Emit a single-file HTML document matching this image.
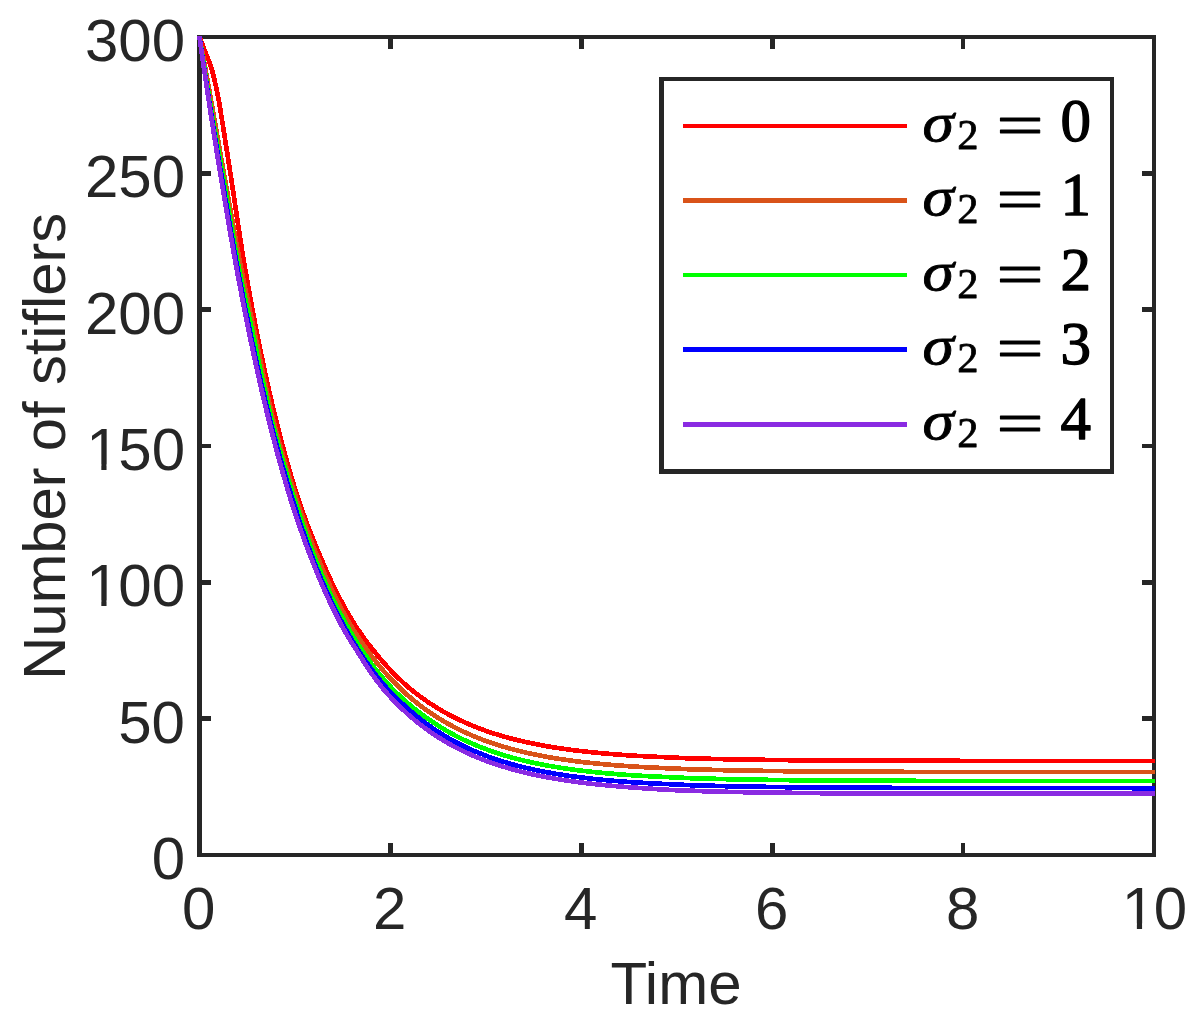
<!DOCTYPE html>
<html lang="en"><head><meta charset="utf-8"><title>Number of stiflers vs Time</title>
<style>html,body{margin:0;padding:0;background:#fff}body{width:1200px;height:1022px;overflow:hidden}svg{display:block}.t{font-family:"Liberation Sans",Arial,Helvetica,sans-serif;font-size:60px;fill:#262626}.m{font-family:"Liberation Serif","Times New Roman",serif;fill:#000}</style></head><body>
<svg width="1200" height="1022" viewBox="0 0 1200 1022">
<rect x="0" y="0" width="1200" height="1022" fill="#ffffff"/>
<g fill="#262626" shape-rendering="crispEdges">
<rect x="197" y="35" width="5" height="822"/>
<rect x="1152" y="35" width="4" height="822"/>
<rect x="197" y="35" width="959" height="4"/>
<rect x="197" y="853" width="959" height="4"/>
<rect x="388" y="843" width="5" height="10"/>
<rect x="388" y="39" width="5" height="10"/>
<rect x="579" y="843" width="5" height="10"/>
<rect x="579" y="39" width="5" height="10"/>
<rect x="770" y="843" width="5" height="10"/>
<rect x="770" y="39" width="5" height="10"/>
<rect x="961" y="843" width="4" height="10"/>
<rect x="961" y="39" width="4" height="10"/>
<rect x="202" y="716" width="9" height="5"/>
<rect x="1142" y="716" width="10" height="5"/>
<rect x="202" y="580" width="9" height="5"/>
<rect x="1142" y="580" width="10" height="5"/>
<rect x="202" y="444" width="9" height="4"/>
<rect x="1142" y="444" width="10" height="4"/>
<rect x="202" y="307" width="9" height="5"/>
<rect x="1142" y="307" width="10" height="5"/>
<rect x="202" y="171" width="9" height="5"/>
<rect x="1142" y="171" width="10" height="5"/>
</g>
<clipPath id="pc"><rect x="197" y="36" width="959" height="821"/></clipPath>
<g fill="none" stroke-width="4.7" stroke-linejoin="round" stroke-linecap="butt" shape-rendering="crispEdges" clip-path="url(#pc)">
<path stroke="#ff0000" d="M198.32,34.00 L199.50,37.00 L200.54,39.66 L201.58,42.33 L202.63,45.00 L203.67,47.69 L204.71,50.38 L205.76,53.07 L206.80,55.64 L207.84,58.17 L208.88,60.78 L209.92,63.57 L210.97,66.67 L212.03,70.20 L213.09,74.16 L214.16,78.49 L215.23,83.10 L216.31,87.96 L217.39,93.20 L218.48,98.77 L219.50,104.61 L220.50,110.64 L221.50,116.81 L222.50,123.02 L223.50,129.23 L224.50,135.64 L225.50,142.04 L226.50,148.44 L227.50,154.82 L228.50,161.19 L229.50,167.54 L230.50,173.88 L231.50,180.19 L232.42,186.48 L233.34,192.74 L234.27,198.97 L235.19,205.18 L236.12,211.35 L237.04,217.48 L237.97,223.58 L238.89,229.64 L239.82,235.67 L240.75,241.65 L241.68,247.58 L242.60,253.48 L243.53,259.33 L244.50,265.13 L245.50,270.88 L246.50,276.58 L247.50,282.23 L248.50,287.83 L249.50,293.38 L250.50,298.87 L251.50,304.31 L252.50,309.69 L253.50,315.02 L254.50,320.29 L255.50,325.50 L256.50,330.65 L257.50,335.75 L258.50,340.79 L259.50,345.76 L260.50,350.68 L261.50,355.54 L262.50,360.34 L263.50,365.08 L264.50,369.77 L265.50,374.41 L266.50,378.98 L267.50,383.51 L268.50,387.98 L269.50,392.39 L270.50,396.75 L271.50,401.07 L272.50,405.32 L273.50,409.53 L274.50,413.69 L275.50,417.80 L276.50,421.86 L277.50,425.87 L278.50,429.83 L279.50,433.74 L280.50,437.61 L281.50,441.43 L282.50,445.20 L283.50,448.93 L284.50,452.62 L285.50,456.26 L286.50,459.85 L287.50,463.40 L288.50,466.91 L289.50,470.38 L290.50,473.80 L291.50,477.18 L292.50,480.52 L293.50,483.82 L294.50,487.08 L295.50,490.30 L296.50,493.49 L297.50,496.63 L298.50,499.73 L299.53,502.80 L300.58,505.83 L301.63,508.82 L302.68,511.77 L303.73,514.69 L304.78,517.58 L305.82,520.43 L306.87,523.24 L307.92,526.02 L308.96,528.76 L310.01,531.47 L311.05,534.15 L312.10,536.80 L313.14,539.41 L314.18,541.99 L315.23,544.54 L316.27,547.05 L317.31,549.54 L318.35,551.99 L319.39,554.42 L320.43,556.82 L321.47,559.18 L322.49,561.52 L323.47,563.83 L324.44,566.11 L325.42,568.36 L326.40,570.59 L327.37,572.79 L328.35,574.96 L329.33,577.10 L330.30,579.22 L331.28,581.32 L332.26,583.39 L333.24,585.43 L334.22,587.45 L335.19,589.44 L336.17,591.42 L337.15,593.36 L338.13,595.29 L339.11,597.19 L340.09,599.07 L341.07,600.92 L342.05,602.75 L343.03,604.57 L344.01,606.36 L344.99,608.13 L345.97,609.87 L346.96,611.60 L347.94,613.31 L348.92,614.99 L349.90,616.66 L350.88,618.31 L351.87,619.93 L352.85,621.54 L353.83,623.13 L354.81,624.70 L355.80,626.25 L356.82,627.79 L357.85,629.30 L358.87,630.80 L359.89,632.28 L360.91,633.75 L361.93,635.19 L362.95,636.62 L363.97,638.04 L364.99,639.43 L366.00,640.81 L367.02,642.18 L368.04,643.52 L369.06,644.86 L370.08,646.17 L371.10,647.48 L372.11,648.76 L373.13,650.04 L374.15,651.29 L375.17,652.54 L376.18,653.76 L377.20,654.98 L378.18,656.18 L379.15,657.37 L380.13,658.54 L381.11,659.70 L382.08,660.85 L383.06,661.98 L384.04,663.10 L385.02,664.21 L385.99,665.30 L386.97,666.39 L387.95,667.46 L388.93,668.51 L389.91,669.56 L390.89,670.59 L391.87,671.62 L392.85,672.63 L393.83,673.63 L394.81,674.62 L395.79,675.59 L396.77,676.56 L397.75,677.51 L398.73,678.46 L399.71,679.39 L400.69,680.31 L401.68,681.23 L402.66,682.13 L403.64,683.02 L404.62,683.90 L405.60,684.78 L406.59,685.64 L407.57,686.49 L408.55,687.34 L409.54,688.17 L410.52,688.99 L411.50,689.81 L412.50,690.62 L413.50,691.41 L414.50,692.20 L415.50,692.98 L416.50,693.75 L417.50,694.52 L418.50,695.27 L419.50,696.02 L420.50,696.75 L421.50,697.48 L422.50,698.20 L423.50,698.92 L424.50,699.62 L425.50,700.32 L426.50,701.01 L427.50,701.69 L428.50,702.37 L429.50,703.03 L430.50,703.69 L431.50,704.35 L432.50,704.99 L433.50,705.63 L434.50,706.26 L435.50,706.88 L436.50,707.50 L437.50,708.11 L438.50,708.72 L439.50,709.31 L440.50,709.91 L441.50,710.49 L442.50,711.07 L443.50,711.64 L444.50,712.20 L445.50,712.76 L446.50,713.32 L447.50,713.86 L448.50,714.40 L449.50,714.94 L450.50,715.47 L451.50,715.99 L452.50,716.51 L453.50,717.02 L454.50,717.52 L455.50,718.02 L456.50,718.52 L457.50,719.01 L458.50,719.49 L459.50,719.97 L460.50,720.44 L461.50,720.91 L462.50,721.37 L463.50,721.83 L464.50,722.28 L465.50,722.73 L466.50,723.17 L467.50,723.61 L468.50,724.04 L469.50,724.47 L470.50,724.89 L471.50,725.31 L472.50,725.72 L473.50,726.13 L474.50,726.53 L475.50,726.93 L476.50,727.32 L477.50,727.71 L478.50,728.10 L479.50,728.48 L480.00,728.67 L484.00,730.14 L488.00,731.55 L492.00,732.89 L496.00,734.18 L500.00,735.40 L504.00,736.57 L508.00,737.69 L512.00,738.75 L516.00,739.77 L520.00,740.74 L524.00,741.67 L528.00,742.55 L532.00,743.40 L536.00,744.20 L540.00,744.97 L544.00,745.71 L548.00,746.40 L552.00,747.07 L556.00,747.71 L560.00,748.32 L564.00,748.90 L568.00,749.45 L572.00,749.98 L576.00,750.48 L580.00,750.96 L584.00,751.42 L588.00,751.86 L592.00,752.27 L596.00,752.67 L600.00,753.05 L604.00,753.41 L608.00,753.76 L612.00,754.09 L616.00,754.40 L620.00,754.70 L624.00,754.99 L628.00,755.26 L632.00,755.52 L636.00,755.77 L640.00,756.01 L644.00,756.22 L648.00,756.42 L652.00,756.61 L656.00,756.80 L660.00,756.98 L664.00,757.16 L668.00,757.34 L672.00,757.52 L676.00,757.71 L680.00,757.90 L684.00,758.11 L688.00,758.26 L692.00,758.38 L696.00,758.48 L700.00,758.58 L704.00,758.68 L708.00,758.77 L712.00,758.88 L716.00,758.99 L720.00,759.10 L724.00,759.19 L728.00,759.27 L732.00,759.35 L736.00,759.42 L740.00,759.48 L744.00,759.54 L748.00,759.60 L752.00,759.66 L756.00,759.72 L760.00,759.78 L764.00,759.84 L768.00,759.90 L772.00,759.96 L776.00,760.02 L780.00,760.08 L784.00,760.12 L788.00,760.16 L792.00,760.19 L796.00,760.21 L800.00,760.24 L804.00,760.27 L808.00,760.29 L812.00,760.32 L816.00,760.34 L820.00,760.37 L824.00,760.39 L828.00,760.41 L832.00,760.43 L836.00,760.46 L840.00,760.48 L844.00,760.50 L848.00,760.52 L852.00,760.54 L856.00,760.55 L860.00,760.57 L864.00,760.59 L868.00,760.61 L872.00,760.62 L876.00,760.64 L880.00,760.65 L884.00,760.67 L888.00,760.68 L892.00,760.70 L896.00,760.71 L900.00,760.72 L904.00,760.73 L908.00,760.74 L912.00,760.76 L916.00,760.77 L920.00,760.78 L924.00,760.79 L928.00,760.79 L932.00,760.80 L936.00,760.81 L940.00,760.82 L944.00,760.83 L948.00,760.83 L952.00,760.84 L956.00,760.84 L960.00,760.85 L964.00,760.86 L968.00,760.86 L972.00,760.87 L976.00,760.87 L980.00,760.88 L984.00,760.88 L988.00,760.89 L992.00,760.89 L996.00,760.89 L1000.00,760.90 L1004.00,760.90 L1008.00,760.91 L1012.00,760.91 L1016.00,760.92 L1020.00,760.92 L1024.00,760.93 L1028.00,760.93 L1032.00,760.93 L1036.00,760.94 L1040.00,760.94 L1044.00,760.95 L1048.00,760.95 L1052.00,760.95 L1056.00,760.96 L1060.00,760.96 L1064.00,760.96 L1068.00,760.97 L1072.00,760.97 L1076.00,760.97 L1080.00,760.97 L1084.00,760.98 L1088.00,760.98 L1092.00,760.98 L1096.00,760.98 L1100.00,760.99 L1104.00,760.99 L1108.00,760.99 L1112.00,760.99 L1116.00,760.99 L1120.00,760.99 L1124.00,761.00 L1128.00,761.00 L1132.00,761.00 L1136.00,761.00 L1140.00,761.00 L1144.00,761.00 L1148.00,761.00 L1152.00,761.00 L1155.00,761.00"/>
<path stroke="#d95319" d="M198.94,33.83 L199.50,36.83 L200.50,42.16 L201.50,47.53 L202.50,52.94 L203.50,58.38 L204.50,63.85 L205.50,69.36 L206.50,74.89 L207.50,80.45 L208.50,86.03 L209.50,91.63 L210.50,97.25 L211.50,102.88 L212.50,108.53 L213.50,114.19 L214.50,119.87 L215.50,125.55 L216.50,131.23 L217.50,136.92 L218.50,142.62 L219.50,148.31 L220.50,154.00 L221.50,159.69 L222.50,165.38 L223.50,171.05 L224.50,176.72 L225.50,182.38 L226.50,188.03 L227.50,193.67 L228.50,199.29 L229.50,204.89 L230.50,210.48 L231.50,216.05 L232.50,221.60 L233.50,227.13 L234.50,232.63 L235.50,238.12 L236.50,243.57 L237.50,249.01 L238.50,254.41 L239.50,259.79 L240.54,265.13 L241.61,270.45 L242.67,275.74 L243.74,280.99 L244.80,286.21 L245.87,291.40 L246.93,296.56 L248.00,301.68 L249.06,306.76 L250.12,311.81 L251.19,316.82 L252.25,321.79 L253.31,326.72 L254.37,331.62 L255.43,336.47 L256.49,341.29 L257.45,346.06 L258.39,350.79 L259.33,355.49 L260.27,360.14 L261.22,364.75 L262.16,369.31 L263.10,373.84 L264.05,378.32 L264.99,382.76 L265.94,387.15 L266.88,391.51 L267.83,395.81 L268.77,400.08 L269.72,404.30 L270.67,408.47 L271.62,412.60 L272.57,416.69 L273.52,420.73 L274.53,424.73 L275.58,428.69 L276.63,432.60 L277.68,436.46 L278.73,440.28 L279.78,444.06 L280.83,447.79 L281.87,451.48 L282.92,455.13 L283.96,458.73 L285.01,462.29 L286.05,465.81 L287.10,469.29 L288.14,472.73 L289.19,476.12 L290.23,479.48 L291.27,482.80 L292.31,486.08 L293.35,489.32 L294.39,492.52 L295.43,495.69 L296.47,498.82 L297.50,501.91 L298.50,504.97 L299.50,507.99 L300.50,510.98 L301.50,513.93 L302.50,516.85 L303.50,519.73 L304.50,522.59 L305.50,525.40 L306.50,528.19 L307.50,530.94 L308.50,533.67 L309.50,536.36 L310.50,539.02 L311.50,541.64 L312.50,544.24 L313.50,546.81 L314.50,549.35 L315.50,551.86 L316.50,554.34 L317.50,556.80 L318.50,559.22 L319.49,561.62 L320.47,563.99 L321.44,566.33 L322.42,568.65 L323.39,570.93 L324.37,573.20 L325.34,575.44 L326.32,577.65 L327.30,579.83 L328.27,582.00 L329.25,584.13 L330.23,586.25 L331.21,588.33 L332.18,590.40 L333.16,592.44 L334.14,594.46 L335.12,596.45 L336.10,598.43 L337.08,600.38 L338.06,602.31 L339.03,604.21 L340.01,606.10 L340.99,607.96 L341.97,609.80 L342.95,611.63 L343.94,613.43 L344.92,615.21 L345.90,616.97 L346.88,618.71 L347.86,620.43 L348.84,622.13 L349.82,623.82 L350.81,625.48 L351.81,627.13 L352.82,628.75 L353.83,630.36 L354.84,631.95 L355.85,633.52 L356.86,635.08 L357.87,636.62 L358.88,638.14 L359.89,639.64 L360.90,641.12 L361.91,642.59 L362.92,644.05 L363.93,645.48 L364.94,646.90 L365.95,648.31 L366.96,649.70 L367.97,651.07 L368.98,652.43 L369.99,653.77 L371.00,655.10 L371.98,656.42 L372.96,657.71 L373.94,659.00 L374.92,660.27 L375.91,661.53 L376.89,662.77 L377.87,664.00 L378.85,665.21 L379.84,666.41 L380.82,667.60 L381.80,668.77 L382.79,669.93 L383.77,671.08 L384.75,672.22 L385.74,673.34 L386.72,674.45 L387.71,675.55 L388.69,676.64 L389.68,677.71 L390.66,678.77 L391.65,679.82 L392.63,680.86 L393.62,681.89 L394.60,682.91 L395.59,683.91 L396.57,684.90 L397.56,685.89 L398.54,686.86 L399.53,687.82 L400.52,688.77 L401.50,689.71 L402.50,690.64 L403.50,691.56 L404.50,692.47 L405.50,693.37 L406.50,694.26 L407.50,695.14 L408.50,696.01 L409.50,696.87 L410.50,697.72 L411.50,698.56 L412.50,699.39 L413.50,700.21 L414.50,701.03 L415.50,701.83 L416.50,702.63 L417.50,703.42 L418.50,704.19 L419.50,704.96 L420.50,705.73 L421.50,706.48 L422.50,707.22 L423.50,707.96 L424.50,708.69 L425.50,709.41 L426.50,710.12 L427.50,710.83 L428.50,711.53 L429.50,712.21 L430.50,712.90 L431.50,713.57 L432.50,714.24 L433.50,714.90 L434.50,715.55 L435.50,716.20 L436.50,716.83 L437.50,717.47 L438.50,718.09 L439.50,718.71 L440.50,719.32 L441.50,719.92 L442.50,720.52 L443.50,721.11 L444.50,721.70 L445.50,722.27 L446.50,722.85 L447.50,723.41 L448.50,723.97 L449.50,724.52 L450.50,725.07 L451.50,725.61 L452.50,726.15 L453.50,726.67 L454.50,727.20 L455.50,727.71 L456.50,728.23 L457.50,728.73 L458.50,729.23 L459.50,729.73 L460.50,730.21 L461.50,730.70 L462.50,731.18 L463.50,731.65 L464.50,732.12 L465.50,732.58 L466.50,733.03 L467.50,733.49 L468.50,733.93 L469.50,734.37 L470.50,734.81 L471.50,735.24 L472.50,735.67 L473.50,736.09 L474.50,736.51 L475.50,736.92 L476.50,737.33 L477.50,737.73 L478.50,738.13 L479.50,738.52 L480.00,738.72 L484.00,740.24 L488.00,741.70 L492.00,743.08 L496.00,744.41 L500.00,745.68 L504.00,746.89 L508.00,748.04 L512.00,749.14 L516.00,750.19 L520.00,751.19 L524.00,752.15 L528.00,753.07 L532.00,753.94 L536.00,754.77 L540.00,755.56 L544.00,756.32 L548.00,757.04 L552.00,757.73 L556.00,758.38 L560.00,759.01 L564.00,759.61 L568.00,760.18 L572.00,760.72 L576.00,761.24 L580.00,761.74 L584.00,762.21 L588.00,762.66 L592.00,763.09 L596.00,763.50 L600.00,763.89 L604.00,764.26 L608.00,764.61 L612.00,764.95 L616.00,765.28 L620.00,765.59 L624.00,765.88 L628.00,766.16 L632.00,766.43 L636.00,766.68 L640.00,766.93 L644.00,767.14 L648.00,767.35 L652.00,767.54 L656.00,767.73 L660.00,767.91 L664.00,768.09 L668.00,768.27 L672.00,768.45 L676.00,768.63 L680.00,768.81 L684.00,769.01 L688.00,769.19 L692.00,769.32 L696.00,769.44 L700.00,769.54 L704.00,769.64 L708.00,769.75 L712.00,769.86 L716.00,769.98 L720.00,770.10 L724.00,770.19 L728.00,770.28 L732.00,770.35 L736.00,770.43 L740.00,770.49 L744.00,770.56 L748.00,770.62 L752.00,770.68 L756.00,770.74 L760.00,770.80 L764.00,770.87 L768.00,770.94 L772.00,771.01 L776.00,771.07 L780.00,771.13 L784.00,771.17 L788.00,771.21 L792.00,771.24 L796.00,771.28 L800.00,771.31 L804.00,771.35 L808.00,771.38 L812.00,771.41 L816.00,771.44 L820.00,771.47 L824.00,771.50 L828.00,771.53 L832.00,771.56 L836.00,771.58 L840.00,771.61 L844.00,771.63 L848.00,771.65 L852.00,771.67 L856.00,771.70 L860.00,771.71 L864.00,771.73 L868.00,771.75 L872.00,771.77 L876.00,771.78 L880.00,771.79 L884.00,771.81 L888.00,771.82 L892.00,771.83 L896.00,771.84 L900.00,771.84 L904.00,771.85 L908.00,771.85 L912.00,771.86 L916.00,771.86 L920.00,771.87 L924.00,771.87 L928.00,771.88 L932.00,771.88 L936.00,771.88 L940.00,771.89 L944.00,771.89 L948.00,771.90 L952.00,771.90 L956.00,771.90 L960.00,771.91 L964.00,771.91 L968.00,771.92 L972.00,771.92 L976.00,771.92 L980.00,771.93 L984.00,771.93 L988.00,771.93 L992.00,771.94 L996.00,771.94 L1000.00,771.94 L1004.00,771.95 L1008.00,771.95 L1012.00,771.95 L1016.00,771.95 L1020.00,771.96 L1024.00,771.96 L1028.00,771.96 L1032.00,771.96 L1036.00,771.97 L1040.00,771.97 L1044.00,771.97 L1048.00,771.97 L1052.00,771.97 L1056.00,771.98 L1060.00,771.98 L1064.00,771.98 L1068.00,771.98 L1072.00,771.98 L1076.00,771.98 L1080.00,771.99 L1084.00,771.99 L1088.00,771.99 L1092.00,771.99 L1096.00,771.99 L1100.00,771.99 L1104.00,771.99 L1108.00,771.99 L1112.00,772.00 L1116.00,772.00 L1120.00,772.00 L1124.00,772.00 L1128.00,772.00 L1132.00,772.00 L1136.00,772.00 L1140.00,772.00 L1144.00,772.00 L1148.00,772.00 L1152.00,772.00 L1155.00,772.00"/>
<path stroke="#00ff00" d="M199.03,33.96 L199.50,36.96 L200.50,43.34 L201.50,49.70 L202.50,56.04 L203.50,62.36 L204.50,68.66 L205.50,74.93 L206.50,81.19 L207.50,87.42 L208.50,93.63 L209.50,99.81 L210.56,105.97 L211.62,112.11 L212.68,118.22 L213.74,124.30 L214.80,130.35 L215.86,136.38 L216.92,142.38 L217.98,148.35 L219.04,154.29 L220.10,160.20 L221.16,166.09 L222.22,171.94 L223.28,177.76 L224.27,183.54 L225.21,189.30 L226.15,195.03 L227.10,200.72 L228.04,206.38 L228.99,212.00 L229.93,217.59 L230.88,223.15 L231.83,228.67 L232.77,234.16 L233.72,239.62 L234.67,245.04 L235.61,250.42 L236.56,255.77 L237.51,261.08 L238.55,266.36 L239.62,271.60 L240.68,276.80 L241.75,281.97 L242.81,287.10 L243.88,292.19 L244.94,297.24 L246.00,302.26 L247.07,307.24 L248.13,312.19 L249.19,317.10 L250.25,321.96 L251.31,326.80 L252.37,331.59 L253.43,336.34 L254.49,341.06 L255.45,345.74 L256.40,350.38 L257.34,354.99 L258.28,359.55 L259.22,364.08 L260.17,368.57 L261.11,373.02 L262.06,377.44 L263.00,381.81 L263.95,386.15 L264.89,390.45 L265.84,394.71 L266.79,398.94 L267.74,403.12 L268.68,407.27 L269.63,411.39 L270.58,415.46 L271.53,419.50 L272.52,423.50 L273.57,427.46 L274.62,431.39 L275.67,435.28 L276.72,439.13 L277.77,442.94 L278.81,446.72 L279.86,450.46 L280.91,454.17 L281.95,457.84 L283.00,461.48 L284.05,465.07 L285.09,468.64 L286.14,472.17 L287.18,475.66 L288.22,479.11 L289.27,482.54 L290.31,485.92 L291.35,489.28 L292.39,492.60 L293.44,495.88 L294.48,499.13 L295.51,502.35 L296.52,505.53 L297.53,508.68 L298.54,511.80 L299.56,514.88 L300.57,517.93 L301.58,520.95 L302.60,523.93 L303.61,526.89 L304.62,529.81 L305.63,532.70 L306.64,535.56 L307.66,538.38 L308.67,541.18 L309.68,543.95 L310.69,546.68 L311.70,549.39 L312.71,552.06 L313.72,554.70 L314.73,557.32 L315.75,559.90 L316.77,562.46 L317.80,564.99 L318.82,567.48 L319.85,569.95 L320.88,572.39 L321.91,574.80 L322.94,577.19 L323.96,579.54 L324.99,581.87 L326.02,584.17 L327.04,586.44 L328.07,588.69 L329.10,590.91 L330.12,593.10 L331.15,595.27 L332.17,597.41 L333.19,599.52 L334.22,601.61 L335.24,603.67 L336.27,605.71 L337.29,607.72 L338.31,609.70 L339.33,611.67 L340.36,613.60 L341.38,615.52 L342.40,617.41 L343.42,619.27 L344.44,621.12 L345.46,622.94 L346.49,624.73 L347.49,626.50 L348.48,628.25 L349.46,629.98 L350.44,631.69 L351.42,633.37 L352.41,635.03 L353.39,636.68 L354.37,638.29 L355.36,639.89 L356.34,641.47 L357.32,643.03 L358.31,644.56 L359.29,646.08 L360.28,647.57 L361.26,649.05 L362.25,650.51 L363.23,651.95 L364.22,653.37 L365.20,654.77 L366.14,656.15 L367.08,657.52 L368.01,658.87 L368.95,660.20 L369.88,661.52 L370.82,662.82 L371.76,664.11 L372.70,665.38 L373.63,666.63 L374.57,667.87 L375.52,669.10 L376.46,670.31 L377.40,671.51 L378.34,672.69 L379.28,673.86 L380.23,675.02 L381.17,676.16 L382.12,677.29 L383.06,678.41 L384.01,679.52 L384.96,680.61 L385.90,681.70 L386.85,682.77 L387.80,683.83 L388.75,684.88 L389.70,685.92 L390.65,686.94 L391.60,687.96 L392.55,688.97 L393.50,689.96 L394.50,690.95 L395.50,691.92 L396.50,692.89 L397.50,693.85 L398.50,694.79 L399.50,695.73 L400.50,696.66 L401.50,697.58 L402.50,698.49 L403.50,699.39 L404.50,700.29 L405.50,701.17 L406.50,702.05 L407.50,702.91 L408.50,703.77 L409.50,704.62 L410.50,705.46 L411.50,706.30 L412.50,707.12 L413.50,707.94 L414.50,708.75 L415.50,709.55 L416.50,710.34 L417.50,711.13 L418.50,711.90 L419.50,712.67 L420.50,713.43 L421.50,714.19 L422.50,714.93 L423.50,715.67 L424.50,716.40 L425.50,717.12 L426.50,717.84 L427.50,718.55 L428.50,719.25 L429.50,719.94 L430.50,720.63 L431.50,721.31 L432.50,721.98 L433.50,722.65 L434.50,723.31 L435.50,723.96 L436.50,724.60 L437.50,725.24 L438.50,725.87 L439.50,726.50 L440.50,727.12 L441.50,727.73 L442.50,728.33 L443.50,728.93 L444.50,729.52 L445.50,730.11 L446.50,730.69 L447.50,731.26 L448.50,731.83 L449.50,732.39 L450.50,732.95 L451.50,733.50 L452.50,734.04 L453.50,734.58 L454.50,735.11 L455.50,735.64 L456.50,736.16 L457.50,736.67 L458.50,737.18 L459.50,737.68 L460.50,738.18 L461.50,738.67 L462.50,739.16 L463.50,739.64 L464.50,740.12 L465.50,740.59 L466.50,741.06 L467.50,741.52 L468.50,741.97 L469.50,742.43 L470.50,742.87 L471.50,743.31 L472.50,743.75 L473.50,744.18 L474.50,744.61 L475.50,745.03 L476.50,745.45 L477.50,745.86 L478.50,746.27 L479.50,746.67 L480.00,746.87 L484.00,748.43 L488.00,749.92 L492.00,751.34 L496.00,752.70 L500.00,754.00 L504.00,755.24 L508.00,756.42 L512.00,757.56 L516.00,758.63 L520.00,759.66 L524.00,760.65 L528.00,761.58 L532.00,762.48 L536.00,763.33 L540.00,764.15 L544.00,764.92 L548.00,765.66 L552.00,766.37 L556.00,767.04 L560.00,767.68 L564.00,768.29 L568.00,768.88 L572.00,769.43 L576.00,769.96 L580.00,770.47 L584.00,770.95 L588.00,771.41 L592.00,771.85 L596.00,772.26 L600.00,772.66 L604.00,773.04 L608.00,773.40 L612.00,773.74 L616.00,774.07 L620.00,774.39 L624.00,774.68 L628.00,774.97 L632.00,775.24 L636.00,775.50 L640.00,775.75 L644.00,775.97 L648.00,776.17 L652.00,776.37 L656.00,776.57 L660.00,776.76 L664.00,776.94 L668.00,777.12 L672.00,777.30 L676.00,777.49 L680.00,777.67 L684.00,777.86 L688.00,778.06 L692.00,778.22 L696.00,778.35 L700.00,778.45 L704.00,778.55 L708.00,778.65 L712.00,778.75 L716.00,778.86 L720.00,778.98 L724.00,779.11 L728.00,779.20 L732.00,779.28 L736.00,779.36 L740.00,779.43 L744.00,779.49 L748.00,779.55 L752.00,779.61 L756.00,779.67 L760.00,779.73 L764.00,779.79 L768.00,779.85 L772.00,779.92 L776.00,779.98 L780.00,780.05 L784.00,780.11 L788.00,780.15 L792.00,780.19 L796.00,780.22 L800.00,780.25 L804.00,780.29 L808.00,780.32 L812.00,780.35 L816.00,780.38 L820.00,780.41 L824.00,780.44 L828.00,780.47 L832.00,780.50 L836.00,780.52 L840.00,780.55 L844.00,780.57 L848.00,780.60 L852.00,780.62 L856.00,780.64 L860.00,780.66 L864.00,780.68 L868.00,780.70 L872.00,780.72 L876.00,780.74 L880.00,780.75 L884.00,780.77 L888.00,780.78 L892.00,780.79 L896.00,780.81 L900.00,780.82 L904.00,780.83 L908.00,780.83 L912.00,780.84 L916.00,780.85 L920.00,780.85 L924.00,780.86 L928.00,780.86 L932.00,780.87 L936.00,780.87 L940.00,780.88 L944.00,780.88 L948.00,780.88 L952.00,780.89 L956.00,780.89 L960.00,780.90 L964.00,780.90 L968.00,780.91 L972.00,780.91 L976.00,780.91 L980.00,780.92 L984.00,780.92 L988.00,780.92 L992.00,780.93 L996.00,780.93 L1000.00,780.93 L1004.00,780.94 L1008.00,780.94 L1012.00,780.94 L1016.00,780.95 L1020.00,780.95 L1024.00,780.95 L1028.00,780.96 L1032.00,780.96 L1036.00,780.96 L1040.00,780.96 L1044.00,780.97 L1048.00,780.97 L1052.00,780.97 L1056.00,780.97 L1060.00,780.98 L1064.00,780.98 L1068.00,780.98 L1072.00,780.98 L1076.00,780.98 L1080.00,780.98 L1084.00,780.99 L1088.00,780.99 L1092.00,780.99 L1096.00,780.99 L1100.00,780.99 L1104.00,780.99 L1108.00,780.99 L1112.00,780.99 L1116.00,781.00 L1120.00,781.00 L1124.00,781.00 L1128.00,781.00 L1132.00,781.00 L1136.00,781.00 L1140.00,781.00 L1144.00,781.00 L1148.00,781.00 L1152.00,781.00 L1155.00,781.00"/>
<path stroke="#0000ff" d="M199.06,33.93 L199.50,36.93 L200.50,43.74 L201.50,50.51 L202.50,57.24 L203.50,63.94 L204.50,70.60 L205.50,77.22 L206.50,83.80 L207.50,90.35 L208.50,96.86 L209.52,103.33 L210.55,109.76 L211.58,116.15 L212.61,122.50 L213.64,128.81 L214.68,135.09 L215.71,141.32 L216.74,147.52 L217.77,153.67 L218.80,159.79 L219.83,165.86 L220.86,171.90 L221.89,177.89 L222.88,183.85 L223.85,189.76 L224.82,195.63 L225.80,201.46 L226.77,207.25 L227.74,213.00 L228.71,218.71 L229.68,224.38 L230.66,230.01 L231.63,235.60 L232.60,241.14 L233.57,246.65 L234.55,252.11 L235.52,257.53 L236.50,262.92 L237.50,268.26 L238.50,273.56 L239.50,278.82 L240.50,284.03 L241.50,289.21 L242.50,294.35 L243.50,299.44 L244.50,304.50 L245.50,309.51 L246.50,314.49 L247.50,319.42 L248.50,324.32 L249.50,329.17 L250.50,333.98 L251.50,338.75 L252.50,343.49 L253.50,348.18 L254.50,352.83 L255.50,357.44 L256.50,362.02 L257.50,366.55 L258.50,371.05 L259.50,375.50 L260.50,379.92 L261.50,384.30 L262.50,388.64 L263.50,392.94 L264.50,397.20 L265.50,401.43 L266.50,405.61 L267.50,409.76 L268.50,413.87 L269.50,417.94 L270.50,421.98 L271.54,425.98 L272.58,429.94 L273.61,433.86 L274.65,437.75 L275.69,441.60 L276.72,445.41 L277.76,449.19 L278.79,452.93 L279.83,456.64 L280.86,460.31 L281.90,463.95 L282.93,467.55 L283.97,471.11 L285.00,474.65 L286.03,478.14 L287.07,481.60 L288.10,485.03 L289.13,488.43 L290.16,491.79 L291.19,495.11 L292.23,498.41 L293.25,501.67 L294.27,504.90 L295.28,508.09 L296.29,511.25 L297.31,514.39 L298.32,517.48 L299.33,520.55 L300.34,523.59 L301.36,526.59 L302.37,529.57 L303.38,532.51 L304.39,535.42 L305.41,538.30 L306.42,541.15 L307.43,543.98 L308.44,546.77 L309.45,549.53 L310.46,552.26 L311.47,554.97 L312.49,557.64 L313.50,560.29 L314.52,562.90 L315.56,565.49 L316.59,568.05 L317.62,570.58 L318.65,573.08 L319.68,575.55 L320.71,578.00 L321.74,580.41 L322.77,582.80 L323.80,585.16 L324.83,587.49 L325.85,589.80 L326.88,592.07 L327.91,594.32 L328.94,596.54 L329.96,598.74 L330.99,600.91 L332.02,603.05 L333.04,605.17 L334.07,607.26 L335.09,609.32 L336.12,611.36 L337.14,613.37 L338.17,615.35 L339.19,617.31 L340.22,619.25 L341.24,621.16 L342.26,623.05 L343.29,624.91 L344.30,626.75 L345.30,628.56 L346.30,630.35 L347.30,632.11 L348.30,633.86 L349.30,635.57 L350.30,637.27 L351.30,638.94 L352.30,640.59 L353.30,642.22 L354.30,643.83 L355.30,645.41 L356.30,646.97 L357.30,648.51 L358.30,650.03 L359.30,651.53 L360.30,653.01 L361.30,654.47 L362.25,655.91 L363.18,657.33 L364.11,658.73 L365.04,660.12 L365.97,661.48 L366.90,662.84 L367.83,664.17 L368.76,665.49 L369.69,666.79 L370.63,668.08 L371.56,669.35 L372.50,670.61 L373.43,671.85 L374.37,673.08 L375.31,674.30 L376.25,675.50 L377.18,676.69 L378.12,677.86 L379.06,679.03 L380.01,680.18 L380.95,681.32 L381.89,682.45 L382.83,683.56 L383.77,684.67 L384.72,685.76 L385.66,686.85 L386.61,687.92 L387.55,688.98 L388.50,690.04 L389.50,691.08 L390.50,692.12 L391.50,693.14 L392.50,694.15 L393.50,695.16 L394.50,696.16 L395.50,697.15 L396.50,698.13 L397.50,699.10 L398.50,700.06 L399.50,701.02 L400.50,701.97 L401.50,702.91 L402.50,703.84 L403.50,704.76 L404.50,705.68 L405.50,706.59 L406.50,707.49 L407.50,708.38 L408.50,709.26 L409.50,710.13 L410.50,711.00 L411.50,711.86 L412.50,712.71 L413.50,713.55 L414.50,714.38 L415.50,715.20 L416.50,716.02 L417.50,716.83 L418.50,717.63 L419.50,718.42 L420.50,719.20 L421.50,719.97 L422.50,720.74 L423.50,721.50 L424.50,722.25 L425.50,723.00 L426.50,723.73 L427.50,724.46 L428.50,725.18 L429.50,725.89 L430.50,726.60 L431.50,727.30 L432.50,727.99 L433.50,728.67 L434.50,729.34 L435.50,730.01 L436.50,730.67 L437.50,731.33 L438.50,731.98 L439.50,732.62 L440.50,733.25 L441.50,733.88 L442.50,734.50 L443.50,735.11 L444.50,735.71 L445.50,736.31 L446.50,736.91 L447.50,737.49 L448.50,738.07 L449.50,738.65 L450.50,739.21 L451.50,739.77 L452.50,740.33 L453.50,740.88 L454.50,741.42 L455.50,741.96 L456.50,742.49 L457.50,743.01 L458.50,743.53 L459.50,744.04 L460.50,744.55 L461.50,745.05 L462.50,745.55 L463.50,746.04 L464.50,746.52 L465.50,747.00 L466.50,747.48 L467.50,747.95 L468.50,748.41 L469.50,748.87 L470.50,749.32 L471.50,749.77 L472.50,750.21 L473.50,750.65 L474.50,751.08 L475.50,751.51 L476.50,751.93 L477.50,752.35 L478.50,752.77 L479.50,753.18 L480.00,753.38 L484.00,754.96 L488.00,756.47 L492.00,757.92 L496.00,759.29 L500.00,760.61 L504.00,761.87 L508.00,763.07 L512.00,764.21 L516.00,765.30 L520.00,766.35 L524.00,767.34 L528.00,768.29 L532.00,769.20 L536.00,770.06 L540.00,770.89 L544.00,771.68 L548.00,772.43 L552.00,773.14 L556.00,773.83 L560.00,774.48 L564.00,775.10 L568.00,775.69 L572.00,776.26 L576.00,776.80 L580.00,777.31 L584.00,777.80 L588.00,778.27 L592.00,778.72 L596.00,779.14 L600.00,779.55 L604.00,779.94 L608.00,780.31 L612.00,780.66 L616.00,781.00 L620.00,781.32 L624.00,781.62 L628.00,781.92 L632.00,782.20 L636.00,782.46 L640.00,782.72 L644.00,782.94 L648.00,783.15 L652.00,783.36 L656.00,783.55 L660.00,783.74 L664.00,783.93 L668.00,784.12 L672.00,784.30 L676.00,784.48 L680.00,784.67 L684.00,784.86 L688.00,785.06 L692.00,785.22 L696.00,785.35 L700.00,785.46 L704.00,785.57 L708.00,785.67 L712.00,785.77 L716.00,785.89 L720.00,786.01 L724.00,786.13 L728.00,786.22 L732.00,786.30 L736.00,786.38 L740.00,786.45 L744.00,786.52 L748.00,786.58 L752.00,786.64 L756.00,786.71 L760.00,786.77 L764.00,786.83 L768.00,786.90 L772.00,786.97 L776.00,787.04 L780.00,787.10 L784.00,787.15 L788.00,787.19 L792.00,787.23 L796.00,787.27 L800.00,787.30 L804.00,787.34 L808.00,787.37 L812.00,787.41 L816.00,787.44 L820.00,787.47 L824.00,787.50 L828.00,787.53 L832.00,787.56 L836.00,787.59 L840.00,787.61 L844.00,787.64 L848.00,787.66 L852.00,787.68 L856.00,787.71 L860.00,787.73 L864.00,787.75 L868.00,787.76 L872.00,787.78 L876.00,787.80 L880.00,787.81 L884.00,787.82 L888.00,787.83 L892.00,787.85 L896.00,787.85 L900.00,787.86 L904.00,787.87 L908.00,787.88 L912.00,787.89 L916.00,787.90 L920.00,787.90 L924.00,787.91 L928.00,787.92 L932.00,787.92 L936.00,787.93 L940.00,787.94 L944.00,787.94 L948.00,787.95 L952.00,787.95 L956.00,787.96 L960.00,787.96 L964.00,787.97 L968.00,787.97 L972.00,787.98 L976.00,787.98 L980.00,787.99 L984.00,787.99 L988.00,787.99 L992.00,788.00 L996.00,788.00 L1000.00,788.01 L1004.00,788.01 L1008.00,788.01 L1012.00,788.02 L1016.00,788.02 L1020.00,788.02 L1024.00,788.03 L1028.00,788.03 L1032.00,788.03 L1036.00,788.04 L1040.00,788.04 L1044.00,788.04 L1048.00,788.05 L1052.00,788.05 L1056.00,788.06 L1060.00,788.06 L1064.00,788.06 L1068.00,788.07 L1072.00,788.07 L1076.00,788.07 L1080.00,788.08 L1084.00,788.08 L1088.00,788.09 L1092.00,788.09 L1096.00,788.10 L1100.00,788.10 L1104.00,788.11 L1108.00,788.11 L1112.00,788.12 L1116.00,788.12 L1120.00,788.13 L1124.00,788.14 L1128.00,788.14 L1132.00,788.15 L1136.00,788.16 L1140.00,788.17 L1144.00,788.17 L1148.00,788.18 L1152.00,788.19 L1155.00,788.20"/>
<path stroke="#8a2be2" d="M199.07,34.00 L199.50,37.00 L200.50,44.05 L201.50,51.06 L202.50,58.03 L203.50,64.95 L204.50,71.83 L205.50,78.66 L206.50,85.45 L207.50,92.20 L208.50,98.90 L209.51,105.56 L210.53,112.17 L211.55,118.74 L212.56,125.26 L213.58,131.73 L214.60,138.16 L215.61,144.55 L216.63,150.89 L217.64,157.19 L218.66,163.43 L219.67,169.64 L220.69,175.80 L221.70,181.91 L222.68,187.98 L223.67,194.00 L224.65,199.97 L225.64,205.90 L226.62,211.79 L227.61,217.63 L228.59,223.42 L229.58,229.17 L230.57,234.87 L231.55,240.53 L232.54,246.14 L233.53,251.70 L234.51,257.23 L235.50,262.70 L236.50,268.13 L237.50,273.52 L238.50,278.86 L239.50,284.16 L240.50,289.41 L241.50,294.62 L242.50,299.78 L243.50,304.90 L244.50,309.98 L245.50,315.01 L246.50,319.99 L247.50,324.94 L248.50,329.84 L249.50,334.70 L250.50,339.51 L251.50,344.28 L252.50,349.01 L253.50,353.69 L254.50,358.34 L255.50,362.94 L256.50,367.50 L257.50,372.01 L258.50,376.49 L259.50,380.92 L260.50,385.32 L261.50,389.67 L262.50,393.98 L263.50,398.25 L264.50,402.48 L265.50,406.67 L266.50,410.82 L267.50,414.93 L268.50,419.00 L269.50,423.03 L270.50,427.02 L271.50,430.97 L272.50,434.89 L273.50,438.76 L274.50,442.60 L275.50,446.40 L276.50,450.16 L277.50,453.89 L278.50,457.58 L279.50,461.23 L280.50,464.84 L281.50,468.42 L282.50,471.96 L283.50,475.47 L284.50,478.94 L285.50,482.38 L286.50,485.78 L287.50,489.15 L288.50,492.48 L289.50,495.78 L290.50,499.04 L291.51,502.27 L292.54,505.47 L293.56,508.63 L294.59,511.76 L295.62,514.86 L296.64,517.93 L297.67,520.97 L298.69,523.97 L299.72,526.94 L300.74,529.88 L301.76,532.79 L302.79,535.67 L303.81,538.52 L304.84,541.34 L305.86,544.13 L306.88,546.89 L307.91,549.62 L308.93,552.32 L309.95,555.00 L310.97,557.64 L311.99,560.26 L313.01,562.85 L314.02,565.41 L315.03,567.94 L316.04,570.45 L317.06,572.92 L318.07,575.38 L319.08,577.80 L320.09,580.20 L321.10,582.57 L322.11,584.92 L323.12,587.24 L324.13,589.54 L325.14,591.81 L326.15,594.06 L327.16,596.28 L328.17,598.47 L329.18,600.65 L330.19,602.80 L331.20,604.92 L332.21,607.03 L333.22,609.10 L334.23,611.16 L335.24,613.19 L336.25,615.20 L337.26,617.19 L338.27,619.16 L339.28,621.10 L340.29,623.03 L341.30,624.93 L342.32,626.81 L343.37,628.67 L344.42,630.50 L345.47,632.32 L346.52,634.12 L347.57,635.89 L348.62,637.65 L349.67,639.39 L350.72,641.11 L351.76,642.80 L352.81,644.48 L353.86,646.14 L354.90,647.78 L355.95,649.41 L356.99,651.01 L358.03,652.60 L359.08,654.16 L360.07,655.71 L361.00,657.25 L361.93,658.76 L362.86,660.26 L363.79,661.74 L364.72,663.21 L365.66,664.66 L366.59,666.09 L367.53,667.51 L368.46,668.91 L369.40,670.29 L370.34,671.66 L371.28,673.02 L372.22,674.35 L373.15,675.68 L374.09,676.99 L375.04,678.28 L375.98,679.56 L376.92,680.83 L377.86,682.08 L378.81,683.32 L379.75,684.55 L380.69,685.76 L381.64,686.95 L382.59,688.14 L383.53,689.31 L384.50,690.47 L385.50,691.62 L386.50,692.75 L387.50,693.87 L388.50,694.98 L389.50,696.07 L390.50,697.16 L391.50,698.23 L392.50,699.29 L393.50,700.34 L394.50,701.38 L395.50,702.40 L396.50,703.42 L397.50,704.42 L398.50,705.41 L399.50,706.40 L400.50,707.37 L401.50,708.33 L402.50,709.28 L403.50,710.22 L404.50,711.15 L405.50,712.07 L406.50,712.98 L407.50,713.88 L408.50,714.77 L409.50,715.65 L410.50,716.52 L411.50,717.38 L412.50,718.23 L413.50,719.07 L414.50,719.91 L415.50,720.73 L416.50,721.55 L417.50,722.35 L418.50,723.15 L419.50,723.94 L420.50,724.72 L421.50,725.49 L422.50,726.26 L423.50,727.01 L424.50,727.76 L425.50,728.50 L426.50,729.23 L427.50,729.95 L428.50,730.66 L429.50,731.37 L430.50,732.07 L431.50,732.76 L432.50,733.45 L433.50,734.12 L434.50,734.79 L435.50,735.45 L436.50,736.11 L437.50,736.75 L438.50,737.39 L439.50,738.03 L440.50,738.65 L441.50,739.27 L442.50,739.88 L443.50,740.49 L444.50,741.09 L445.50,741.68 L446.50,742.26 L447.50,742.84 L448.50,743.41 L449.50,743.98 L450.50,744.54 L451.50,745.09 L452.50,745.64 L453.50,746.18 L454.50,746.72 L455.50,747.25 L456.50,747.77 L457.50,748.29 L458.50,748.80 L459.50,749.30 L460.50,749.80 L461.50,750.30 L462.50,750.79 L463.50,751.27 L464.50,751.75 L465.50,752.22 L466.50,752.69 L467.50,753.15 L468.50,753.61 L469.50,754.06 L470.50,754.51 L471.50,754.95 L472.50,755.39 L473.50,755.82 L474.50,756.25 L475.50,756.67 L476.50,757.09 L477.50,757.50 L478.50,757.91 L479.50,758.32 L480.00,758.52 L484.00,760.08 L488.00,761.57 L492.00,763.00 L496.00,764.36 L500.00,765.66 L504.00,766.91 L508.00,768.10 L512.00,769.24 L516.00,770.32 L520.00,771.36 L524.00,772.35 L528.00,773.30 L532.00,774.21 L536.00,775.07 L540.00,775.90 L544.00,776.69 L548.00,777.44 L552.00,778.16 L556.00,778.85 L560.00,779.51 L564.00,780.14 L568.00,780.74 L572.00,781.32 L576.00,781.87 L580.00,782.39 L584.00,782.89 L588.00,783.37 L592.00,783.83 L596.00,784.27 L600.00,784.69 L604.00,785.09 L608.00,785.47 L612.00,785.84 L616.00,786.19 L620.00,786.52 L624.00,786.84 L628.00,787.15 L632.00,787.44 L636.00,787.72 L640.00,787.99 L644.00,788.26 L648.00,788.53 L652.00,788.80 L656.00,789.07 L660.00,789.33 L664.00,789.57 L668.00,789.80 L672.00,790.01 L676.00,790.19 L680.00,790.35 L684.00,790.48 L688.00,790.61 L692.00,790.74 L696.00,790.89 L700.00,791.07 L704.00,791.22 L708.00,791.34 L712.00,791.46 L716.00,791.56 L720.00,791.66 L724.00,791.76 L728.00,791.85 L732.00,791.94 L736.00,792.03 L740.00,792.11 L744.00,792.18 L748.00,792.25 L752.00,792.32 L756.00,792.38 L760.00,792.44 L764.00,792.49 L768.00,792.55 L772.00,792.60 L776.00,792.65 L780.00,792.70 L784.00,792.75 L788.00,792.80 L792.00,792.85 L796.00,792.90 L800.00,792.96 L804.00,793.01 L808.00,793.06 L812.00,793.11 L816.00,793.14 L820.00,793.15 L824.00,793.16 L828.00,793.17 L832.00,793.18 L836.00,793.19 L840.00,793.20 L844.00,793.21 L848.00,793.22 L852.00,793.23 L856.00,793.23 L860.00,793.24 L864.00,793.25 L868.00,793.26 L872.00,793.27 L876.00,793.27 L880.00,793.28 L884.00,793.29 L888.00,793.30 L892.00,793.30 L896.00,793.31 L900.00,793.32 L904.00,793.32 L908.00,793.33 L912.00,793.34 L916.00,793.34 L920.00,793.35 L924.00,793.35 L928.00,793.36 L932.00,793.37 L936.00,793.37 L940.00,793.38 L944.00,793.38 L948.00,793.39 L952.00,793.39 L956.00,793.40 L960.00,793.40 L964.00,793.41 L968.00,793.41 L972.00,793.41 L976.00,793.42 L980.00,793.42 L984.00,793.43 L988.00,793.43 L992.00,793.43 L996.00,793.44 L1000.00,793.44 L1004.00,793.44 L1008.00,793.45 L1012.00,793.45 L1016.00,793.45 L1020.00,793.46 L1024.00,793.46 L1028.00,793.46 L1032.00,793.46 L1036.00,793.47 L1040.00,793.47 L1044.00,793.47 L1048.00,793.47 L1052.00,793.48 L1056.00,793.48 L1060.00,793.48 L1064.00,793.48 L1068.00,793.48 L1072.00,793.48 L1076.00,793.49 L1080.00,793.49 L1084.00,793.49 L1088.00,793.49 L1092.00,793.49 L1096.00,793.49 L1100.00,793.49 L1104.00,793.49 L1108.00,793.50 L1112.00,793.50 L1116.00,793.50 L1120.00,793.50 L1124.00,793.50 L1128.00,793.50 L1132.00,793.50 L1136.00,793.50 L1140.00,793.50 L1144.00,793.50 L1148.00,793.50 L1152.00,793.50 L1155.00,793.50"/>
</g>
<rect x="661" y="79" width="451" height="393" fill="#ffffff"/>
<g fill="#262626" shape-rendering="crispEdges">
<rect x="659" y="77" width="5" height="397"/>
<rect x="1110" y="77" width="4" height="397"/>
<rect x="659" y="77" width="455" height="4"/>
<rect x="659" y="469" width="455" height="5"/>
</g>
<g shape-rendering="crispEdges">
<rect x="683" y="124" width="224" height="4" fill="#ff0000"/>
<rect x="683" y="198" width="224" height="5" fill="#d95319"/>
<rect x="683" y="273" width="224" height="4" fill="#00ff00"/>
<rect x="683" y="347" width="224" height="5" fill="#0000ff"/>
<rect x="683" y="422" width="224" height="5" fill="#8a2be2"/>
</g>
<g class="m" stroke="#000" stroke-width="0.8" stroke-linejoin="round">
<g>
<text font-style="italic" font-size="54" transform="translate(922.5,140.7) scale(1.18,1)">σ</text>
<text font-size="42.5" x="957.2" y="148.5">2</text>
<text font-size="62" transform="translate(996.2,145.5) scale(1.36,1)">=</text>
<text font-size="61" x="1060.6" y="140.5" stroke-width="1.3">0</text>
</g>
<g>
<text font-style="italic" font-size="54" transform="translate(922.5,215.2) scale(1.18,1)">σ</text>
<text font-size="42.5" x="957.2" y="223.0">2</text>
<text font-size="62" transform="translate(996.2,220.0) scale(1.36,1)">=</text>
<text font-size="61" x="1060.6" y="215.0" stroke-width="1.3">1</text>
</g>
<g>
<text font-style="italic" font-size="54" transform="translate(922.5,289.7) scale(1.18,1)">σ</text>
<text font-size="42.5" x="957.2" y="297.5">2</text>
<text font-size="62" transform="translate(996.2,294.5) scale(1.36,1)">=</text>
<text font-size="61" x="1060.6" y="289.5" stroke-width="1.3">2</text>
</g>
<g>
<text font-style="italic" font-size="54" transform="translate(922.5,364.2) scale(1.18,1)">σ</text>
<text font-size="42.5" x="957.2" y="372.0">2</text>
<text font-size="62" transform="translate(996.2,369.0) scale(1.36,1)">=</text>
<text font-size="61" x="1060.6" y="364.0" stroke-width="1.3">3</text>
</g>
<g>
<text font-style="italic" font-size="54" transform="translate(922.5,439.2) scale(1.18,1)">σ</text>
<text font-size="42.5" x="957.2" y="447.0">2</text>
<text font-size="62" transform="translate(996.2,444.0) scale(1.36,1)">=</text>
<text font-size="61" x="1060.6" y="439.0" stroke-width="1.3">4</text>
</g>
</g>
<text class="t" x="198.8" y="929" text-anchor="middle">0</text>
<text class="t" x="389.8" y="929" text-anchor="middle">2</text>
<text class="t" x="580.8" y="929" text-anchor="middle">4</text>
<text class="t" x="771.8" y="929" text-anchor="middle">6</text>
<text class="t" x="962.8" y="929" text-anchor="middle">8</text>
<text class="t" x="1121.73 1153.80" y="929">10</text>
<text class="t" x="185" y="879.0" text-anchor="end">0</text>
<text class="t" x="185" y="742.7" text-anchor="end">50</text>
<text class="t" x="86.19 118.26 151.63" y="606.3">100</text>
<text class="t" x="86.19 118.26 151.63" y="470.0">150</text>
<text class="t" x="185" y="333.7" text-anchor="end">200</text>
<text class="t" x="185" y="197.3" text-anchor="end">250</text>
<text class="t" x="185" y="61.0" text-anchor="end">300</text>
<rect x="89.69" y="464.50" width="11.64" height="7" fill="#fff"/>
<rect x="106.53" y="464.50" width="12" height="7" fill="#fff"/>
<rect x="89.69" y="600.50" width="11.64" height="7" fill="#fff"/>
<rect x="106.53" y="600.50" width="12" height="7" fill="#fff"/>
<rect x="1125.23" y="923.50" width="11.64" height="7" fill="#fff"/>
<rect x="1142.07" y="923.50" width="12" height="7" fill="#fff"/>
<text class="t" x="676" y="1004" text-anchor="middle">Time</text>
<text class="t" transform="translate(65,446.5) rotate(-90)" text-anchor="middle" letter-spacing="-0.18">Number of stiflers</text>
</svg></body></html>
